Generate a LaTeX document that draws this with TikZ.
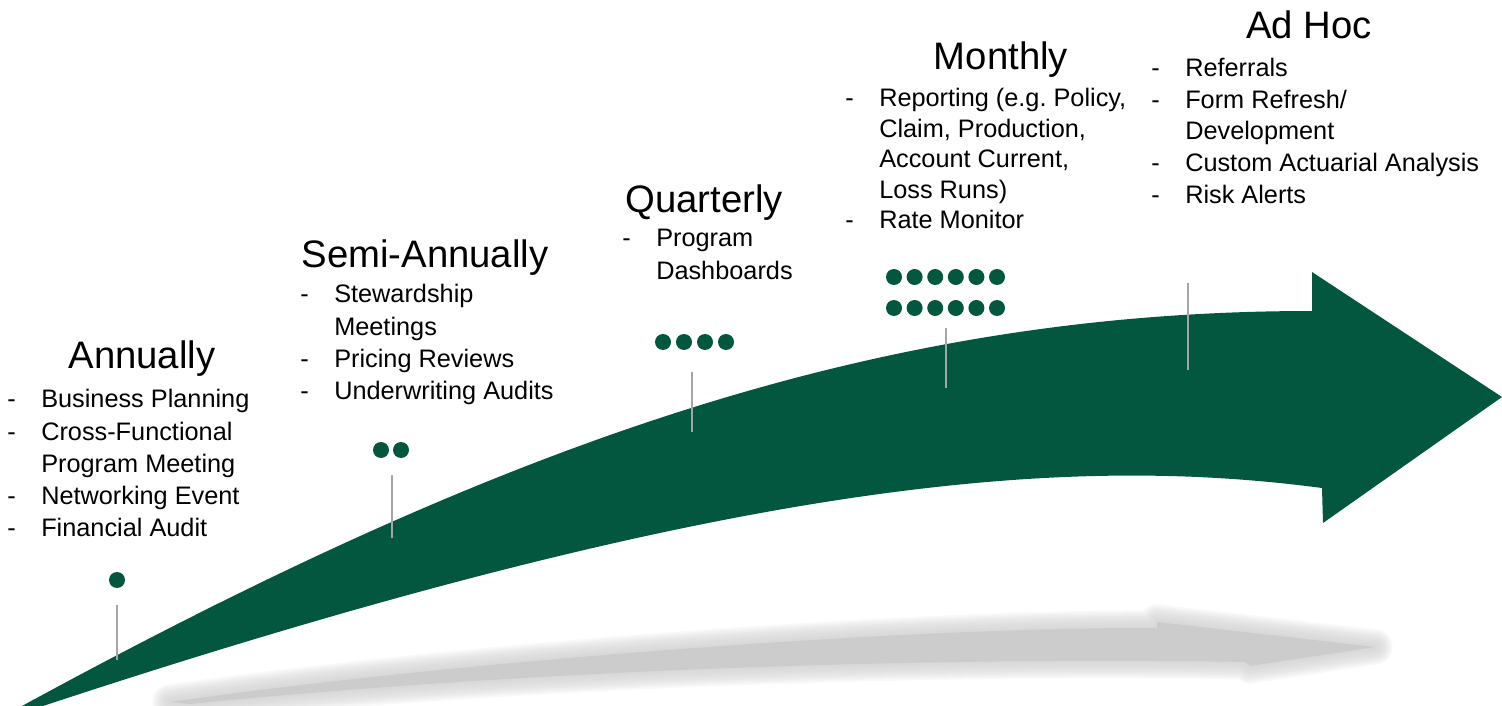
\documentclass[tikz,border=0pt]{standalone}
\usepackage{fontspec}
\setmainfont{Liberation Sans}
\usepackage{xcolor}
\definecolor{arrowgreen}{RGB}{3,87,62}
\definecolor{pingray}{RGB}{165,165,165}
\definecolor{shadowgray}{RGB}{204,204,204}
\newcommand{\itm}{\makebox[19.3pt][l]{-}}
\newcommand{\itmgap}{\makebox[19.3pt]{}}
\newcommand{\shadowpath}{(170,702) .. controls (450,662) and (900,627) .. (1157,628) -- (1157,622) -- (1375,647) -- (1250,666) -- (1245,662) .. controls (950,657) and (550,668) .. (190,704) -- cycle}

\begin{document}
\begin{tikzpicture}[x=0.02cm, y=-0.02cm,
    freqtitle/.style={font=\fontsize{21.8}{26}\selectfont, anchor=base, inner sep=0},
    freqitems/.style={font=\fontsize{14.4}{18.4}\selectfont, anchor=north west, align=left, inner sep=0},
    freqdot/.style={circle, fill=arrowgreen, inner sep=0, minimum size=0.32cm},
    pinline/.style={pingray, line width=0.85pt}]
    \useasboundingbox (0,0) rectangle (1502,706);

    % SHADOW: soft grey copy under the arrow
    \foreach \w in {2,4,...,20}
        \draw[shadowgray, opacity=0.13, line width=\w pt, line join=round] \shadowpath;
    \fill[shadowgray] \shadowpath;

    % ARROW: curved green band with head
    \fill[arrowgreen] (22,706) .. controls (510,440) and (882,311) .. (1312,311)
        -- (1312,272) -- (1502,397) -- (1323,523) -- (1322,488)
        .. controls (1072,455) and (743,475) .. (43,706) -- cycle;

    % PINS: thin grey markers on the arrow
    \foreach \n/\x/\ya/\yb in {ann/117/605/660, semi/392/475/538, qtr/692/372/432, mon/946/328/388, adhoc/1188/283/370} {
        \coordinate (\n-top) at (\x,\ya);
        \coordinate (\n-bot) at (\x,\yb);
        \draw[pinline] (\n-top) -- (\n-bot);
    }

    % ANNUALLY
    \node[freqtitle] (ann) at (142,368) {Annually};
    \node[freqitems] (ann-list) at (7,389) {\itm Business Planning\\ \itm Cross-Functional\\ \itmgap Program Meeting\\ \itm Networking Event\\ \itm Financial Audit};
    \node[freqdot] (ann-d1) at (117,580) {};

    % SEMI-ANNUALLY
    \node[freqtitle] (semi) at (425,267) {Semi-Annually};
    \node[freqitems] (semi-list) at (300,284) {\itm Stewardship\\ \itmgap Meetings\\ \itm Pricing Reviews\\ \itm Underwriting Audits};
    \foreach \i in {1,2}
        \node[freqdot] (semi-d\i) at ({361+20*\i},450) {};

    % QUARTERLY
    \node[freqtitle] (qtr) at (704,213) {Quarterly};
    \node[freqitems] (qtr-list) at (622,229) {\itm Program\\ \itmgap Dashboards};
    \foreach \i in {1,...,4}
        \node[freqdot] (qtr-d\i) at ({642+21*\i},342) {};

    % MONTHLY
    \node[freqtitle] (mon) at (1001,70) {Monthly};
    \node[freqitems, font=\fontsize{14.4}{17.4}\selectfont] (mon-list) at (845,88) {\itm Reporting (e.g.\ Policy,\\ \itmgap Claim, Production,\\ \itmgap Account Current,\\ \itmgap Loss Runs)\\ \itm Rate Monitor};
    \foreach \i in {1,...,6} {
        \node[freqdot] (mon-a\i) at ({873.4+20.6*\i},277) {};
        \node[freqdot] (mon-b\i) at ({873.4+20.6*\i},308) {};
    }

    % AD HOC
    \node[freqtitle] (adhoc) at (1309,39) {Ad Hoc};
    \node[freqitems, font=\fontsize{14.4}{18}\selectfont] (adhoc-list) at (1151,58) {\itm Referrals\\ \itm Form Refresh/\\ \itmgap Development\\ \itm Custom Actuarial Analysis\\ \itm Risk Alerts};
\end{tikzpicture}
\end{document}
